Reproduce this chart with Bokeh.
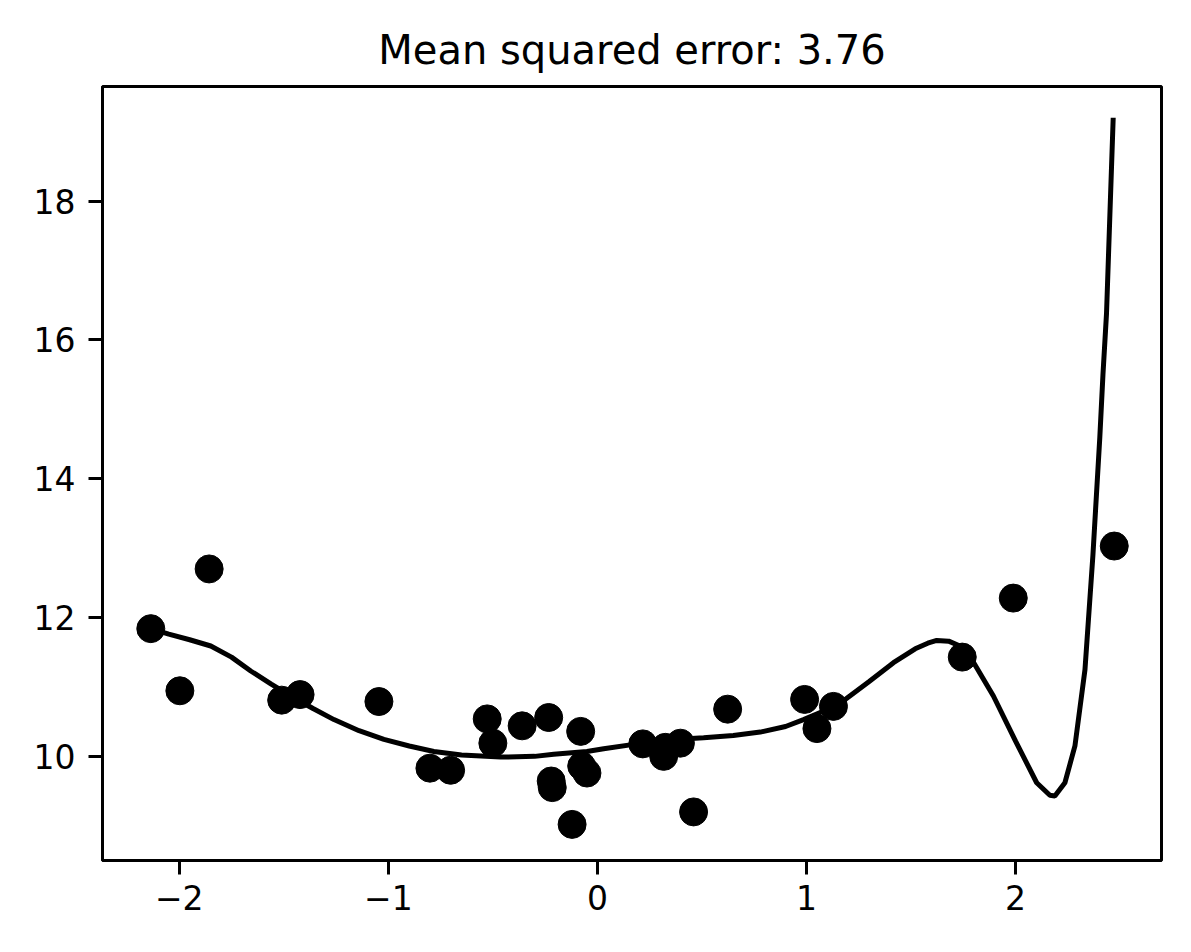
from bokeh.plotting import figure
from bokeh.models import FixedTicker, Range1d
from bokeh.embed import file_html
from bokeh.resources import INLINE

# Sample points
sample_x = [-2.136, -1.997, -1.857, -1.510, -1.422, -1.045, -0.801, -0.702,
            -0.527, -0.500, -0.360, -0.233, -0.221, -0.216, -0.121, -0.080,
            -0.075, -0.050, 0.217, 0.317, 0.325, 0.397, 0.460, 0.623,
            0.991, 1.050, 1.129, 1.745, 1.989, 2.472]
sample_y = [11.84, 10.945, 12.70, 10.81, 10.89, 10.79, 9.83, 9.80,
            10.54, 10.19, 10.44, 10.56, 9.645, 9.55, 9.02, 10.36,
            9.86, 9.76, 10.18, 10.00, 10.13, 10.19, 9.20, 10.68,
            10.82, 10.40, 10.72, 11.43, 12.28, 13.03]

# Fitted model curve
curve_x = [-2.136, -2.05, -1.95, -1.849, -1.75, -1.658, -1.56, -1.467, -1.36,
           -1.26, -1.14, -1.021, -0.90, -0.782, -0.65, -0.463, -0.30, -0.209,
           -0.05, 0.03, 0.19, 0.35, 0.508, 0.65, 0.779, 0.90, 0.986, 1.08,
           1.177, 1.30, 1.416, 1.52, 1.58, 1.623, 1.68, 1.734, 1.80, 1.894, 2.00,
           2.101, 2.164, 2.188, 2.236, 2.284, 2.332, 2.37, 2.403, 2.418,
           2.435, 2.467]
curve_y = [11.84, 11.76, 11.68, 11.59, 11.43, 11.23, 11.04, 10.87, 10.69,
           10.53, 10.37, 10.245, 10.15, 10.07, 10.02, 9.99, 10.00, 10.03,
           10.07, 10.11, 10.18, 10.24, 10.27, 10.30, 10.35, 10.43, 10.53,
           10.65, 10.80, 11.08, 11.35, 11.55, 11.63, 11.67, 11.66, 11.59, 11.35,
           10.87, 10.22, 9.62, 9.44, 9.43, 9.62, 10.15, 11.25, 12.9, 14.6,
           15.5, 16.38, 19.20]

x_ticks = [-2, -1, 0, 1, 2]
y_ticks = [10, 12, 14, 16, 18]
title_text = "Mean squared error: 3.76"

FONT = "DejaVu Sans"

p = figure(width=1183, height=938, output_backend="svg", toolbar_location=None,
           x_range=Range1d(-2.367, 2.698), y_range=Range1d(8.50, 19.65),
           min_border_left=102, min_border_right=22, min_border_top=86,
           min_border_bottom=78, title=title_text)

p.title.text_font = FONT
p.title.text_font_size = "40px"
p.title.text_font_style = "normal"
p.title.align = "center"
p.title.text_color = "black"
p.title.standoff = 27

p.line(curve_x, curve_y, line_color="black", line_width=5)
p.scatter(sample_x, sample_y, size=28, fill_color="black", line_color="black")

p.xgrid.visible = False
p.ygrid.visible = False
p.outline_line_color = "black"
p.outline_line_width = 3
p.outline_line_alpha = 1.0

p.xaxis.ticker = FixedTicker(ticks=x_ticks)
p.yaxis.ticker = FixedTicker(ticks=y_ticks)
p.xaxis.major_label_overrides = {t: (str(t).replace("-", "\u2212")) for t in x_ticks}
for ax in (p.xaxis[0], p.yaxis[0]):
    ax.axis_line_color = "black"
    ax.axis_line_width = 3
    ax.major_tick_line_color = "black"
    ax.major_tick_line_width = 3
    ax.major_tick_out = 14
    ax.major_tick_in = 0
    ax.minor_tick_line_color = None
    ax.major_label_text_font = FONT
    ax.major_label_text_font_size = "33px"
    ax.major_label_text_color = "black"
p.xaxis.major_label_standoff = 10
p.yaxis.major_label_standoff = 13

open("out.html", "w").write(file_html(p, INLINE))
